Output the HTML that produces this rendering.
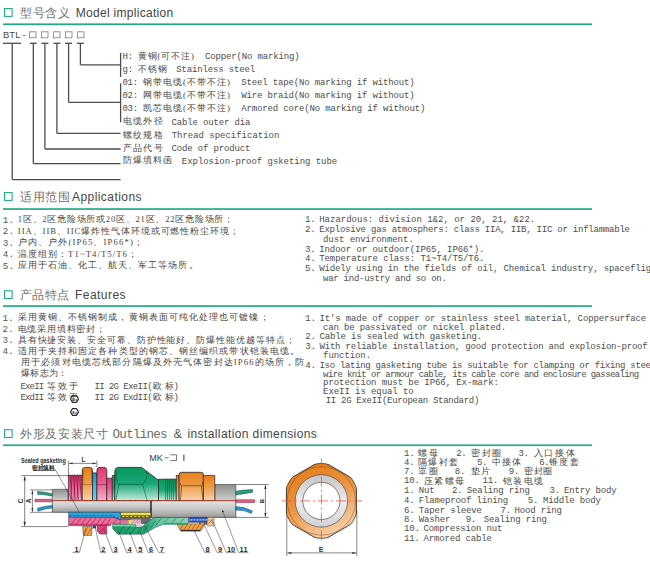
<!DOCTYPE html>
<html><head><meta charset="utf-8"><title>BTL</title>
<style>
html,body{margin:0;padding:0;background:#fff;width:650px;height:563px;overflow:hidden;}
svg{display:block;}
text{white-space:pre;}
</style></head>
<body>
<svg width="650" height="563" viewBox="0 0 650 563">
<rect width="650" height="563" fill="#fff"/>
<rect x="4.5" y="8.6" width="7.6" height="7.8" fill="none" stroke="#1fad82" stroke-width="1.1" />
<text x="20" y="17.2" font-family="'Liberation Sans', sans-serif" font-size="12" fill="#707070" textLength="49.5" lengthAdjust="spacing">型号含义</text>
<text x="75.7" y="17.2" font-family="'Liberation Sans', sans-serif" font-size="12" fill="#454545" textLength="97.5" lengthAdjust="spacing">Model implication</text>
<rect x="3" y="23.4" width="589" height="1.7" fill="#1fad82" />
<rect x="4.5" y="192.6" width="7.6" height="7.8" fill="none" stroke="#1fad82" stroke-width="1.1" />
<text x="20" y="200.8" font-family="'Liberation Sans', sans-serif" font-size="12" fill="#707070" textLength="49.5" lengthAdjust="spacing">适用范围</text>
<text x="72" y="200.8" font-family="'Liberation Sans', sans-serif" font-size="12" fill="#454545" textLength="69.5" lengthAdjust="spacing">Applications</text>
<rect x="3" y="208.2" width="589" height="1.7" fill="#1fad82" />
<rect x="4.5" y="290.8" width="7.6" height="7.8" fill="none" stroke="#1fad82" stroke-width="1.1" />
<text x="20" y="299" font-family="'Liberation Sans', sans-serif" font-size="12" fill="#707070" textLength="49" lengthAdjust="spacing">产品特点</text>
<text x="75" y="299" font-family="'Liberation Sans', sans-serif" font-size="12" fill="#454545" textLength="50.5" lengthAdjust="spacing">Features</text>
<rect x="3" y="305.2" width="589" height="1.7" fill="#1fad82" />
<rect x="4.5" y="429.7" width="7.6" height="7.8" fill="none" stroke="#1fad82" stroke-width="1.1" />
<text x="20" y="437.8" font-family="'Liberation Sans', sans-serif" font-size="12" fill="#707070" textLength="88" lengthAdjust="spacing">外形及安装尺寸</text>
<text x="112.6" y="437.8" font-family="'Liberation Mono', monospace" font-size="12.6" fill="#6a6a6a" textLength="54.9" lengthAdjust="spacing">Outlines</text>
<text x="173.4" y="437.8" font-family="'Liberation Sans', sans-serif" font-size="12.8" fill="#5a5a5a" textLength="9.2" lengthAdjust="spacing">&amp;</text>
<text x="187.5" y="437.8" font-family="'Liberation Sans', sans-serif" font-size="12" fill="#454545" textLength="129.3" lengthAdjust="spacing">installation dimensions</text>
<rect x="3" y="444.4" width="589" height="1.7" fill="#1fad82" />
<text x="3" y="38" font-family="'Liberation Sans', sans-serif" font-size="9.4" fill="#4a4a4a" textLength="17.4" lengthAdjust="spacing">BTL</text>
<text x="22.6" y="38" font-family="'Liberation Sans', sans-serif" font-size="9.4" fill="#4a4a4a" textLength="3.2" lengthAdjust="spacing">-</text>
<rect x="29.5" y="31.8" width="6.5" height="6" fill="none" stroke="#8a8a8a" stroke-width="0.9" />
<rect x="41.5" y="31.8" width="6.5" height="6" fill="none" stroke="#8a8a8a" stroke-width="0.9" />
<rect x="53.5" y="31.8" width="6.5" height="6" fill="none" stroke="#8a8a8a" stroke-width="0.9" />
<rect x="65.5" y="31.8" width="6.5" height="6" fill="none" stroke="#8a8a8a" stroke-width="0.9" />
<rect x="77.5" y="31.8" width="6.5" height="6" fill="none" stroke="#8a8a8a" stroke-width="0.9" />
<line x1="3" y1="43.3" x2="21" y2="43.3" stroke="#4d4d4d" stroke-width="1.3" />
<line x1="12.2" y1="43.3" x2="12.2" y2="179.6" stroke="#4d4d4d" stroke-width="1.3" />
<line x1="12.2" y1="179.6" x2="120.6" y2="179.6" stroke="#4d4d4d" stroke-width="1.3" />
<line x1="29.799999999999997" y1="43.3" x2="36.8" y2="43.3" stroke="#4d4d4d" stroke-width="1.3" />
<line x1="33.3" y1="43.3" x2="33.3" y2="163.6" stroke="#4d4d4d" stroke-width="1.3" />
<line x1="33.3" y1="163.6" x2="120.6" y2="163.6" stroke="#4d4d4d" stroke-width="1.3" />
<line x1="41.4" y1="43.3" x2="48.4" y2="43.3" stroke="#4d4d4d" stroke-width="1.3" />
<line x1="44.9" y1="43.3" x2="44.9" y2="149.0" stroke="#4d4d4d" stroke-width="1.3" />
<line x1="44.9" y1="149.0" x2="120.6" y2="149.0" stroke="#4d4d4d" stroke-width="1.3" />
<line x1="53.4" y1="43.3" x2="60.4" y2="43.3" stroke="#4d4d4d" stroke-width="1.3" />
<line x1="56.9" y1="43.3" x2="56.9" y2="133.4" stroke="#4d4d4d" stroke-width="1.3" />
<line x1="56.9" y1="133.4" x2="120.6" y2="133.4" stroke="#4d4d4d" stroke-width="1.3" />
<line x1="65.1" y1="43.3" x2="72.1" y2="43.3" stroke="#4d4d4d" stroke-width="1.3" />
<line x1="68.6" y1="43.3" x2="68.6" y2="102.4" stroke="#4d4d4d" stroke-width="1.3" />
<line x1="68.6" y1="102.4" x2="120.6" y2="102.4" stroke="#4d4d4d" stroke-width="1.3" />
<line x1="76.9" y1="43.3" x2="83.9" y2="43.3" stroke="#4d4d4d" stroke-width="1.3" />
<line x1="80.4" y1="43.3" x2="80.4" y2="64.9" stroke="#4d4d4d" stroke-width="1.3" />
<line x1="80.4" y1="64.9" x2="120.6" y2="64.9" stroke="#4d4d4d" stroke-width="1.3" />
<line x1="120.6" y1="52.8" x2="120.6" y2="76.9" stroke="#4d4d4d" stroke-width="1.3" />
<line x1="120.6" y1="83.3" x2="120.6" y2="122.3" stroke="#4d4d4d" stroke-width="1.3" />
<text x="122.6" y="59.3" font-family="'Liberation Mono', monospace" font-size="9" fill="#4e4e4e" textLength="10.52" lengthAdjust="spacing">H:</text>
<text x="137.7" y="58.9" font-family="'Liberation Serif', serif" font-size="8.7" fill="#474747" textLength="56.3" lengthAdjust="spacing">黄铜(可不注)</text>
<text x="204.9" y="59.3" font-family="'Liberation Mono', monospace" font-size="9" fill="#4e4e4e" textLength="94.68" lengthAdjust="spacing">Copper(No marking)</text>
<text x="122.6" y="72.4" font-family="'Liberation Mono', monospace" font-size="9" fill="#4e4e4e" textLength="10.52" lengthAdjust="spacing">g:</text>
<text x="137.7" y="72.0" font-family="'Liberation Serif', serif" font-size="8.7" fill="#474747" textLength="28.8" lengthAdjust="spacing">不锈钢</text>
<text x="176.2" y="72.4" font-family="'Liberation Mono', monospace" font-size="9" fill="#4e4e4e" textLength="78.9" lengthAdjust="spacing">Stainless steel</text>
<text x="122.4" y="85.4" font-family="'Liberation Mono', monospace" font-size="9" fill="#4e4e4e" textLength="15.78" lengthAdjust="spacing">01:</text>
<text x="143.2" y="85.0" font-family="'Liberation Serif', serif" font-size="8.7" fill="#474747" textLength="86.6" lengthAdjust="spacing">钢带电缆(不带不注)</text>
<text x="241.2" y="85.4" font-family="'Liberation Mono', monospace" font-size="9" fill="#4e4e4e" textLength="173.58" lengthAdjust="spacing">Steel tape(No marking if without)</text>
<text x="122.4" y="98.4" font-family="'Liberation Mono', monospace" font-size="9" fill="#4e4e4e" textLength="15.78" lengthAdjust="spacing">02:</text>
<text x="143.2" y="98.0" font-family="'Liberation Serif', serif" font-size="8.7" fill="#474747" textLength="86.6" lengthAdjust="spacing">网带电缆(不带不注)</text>
<text x="241.2" y="98.4" font-family="'Liberation Mono', monospace" font-size="9" fill="#4e4e4e" textLength="173.58" lengthAdjust="spacing">Wire braid(No marking if without)</text>
<text x="122.4" y="111.4" font-family="'Liberation Mono', monospace" font-size="9" fill="#4e4e4e" textLength="15.78" lengthAdjust="spacing">03:</text>
<text x="143.2" y="111.0" font-family="'Liberation Serif', serif" font-size="8.7" fill="#474747" textLength="86.6" lengthAdjust="spacing">凯芯电缆(不带不注)</text>
<text x="241.2" y="111.4" font-family="'Liberation Mono', monospace" font-size="9" fill="#4e4e4e" textLength="184.1" lengthAdjust="spacing">Armored core(No marking if without)</text>
<text x="123.2" y="124.3" font-family="'Liberation Serif', serif" font-size="8.7" fill="#474747" textLength="39.3" lengthAdjust="spacing">电缆外径</text>
<text x="171.5" y="124.7" font-family="'Liberation Mono', monospace" font-size="9" fill="#4e4e4e" textLength="78.9" lengthAdjust="spacing">Cable outer dia</text>
<text x="122.9" y="137.5" font-family="'Liberation Serif', serif" font-size="8.7" fill="#474747" textLength="39.6" lengthAdjust="spacing">螺纹规格</text>
<text x="171.7" y="137.9" font-family="'Liberation Mono', monospace" font-size="9" fill="#4e4e4e" textLength="107.6" lengthAdjust="spacing">Thread specification</text>
<text x="122.9" y="150.5" font-family="'Liberation Serif', serif" font-size="8.7" fill="#474747" textLength="39.6" lengthAdjust="spacing">产品代号</text>
<text x="171.5" y="150.9" font-family="'Liberation Mono', monospace" font-size="9" fill="#4e4e4e" textLength="78.9" lengthAdjust="spacing">Code of product</text>
<text x="122.9" y="163.4" font-family="'Liberation Serif', serif" font-size="8.7" fill="#474747" textLength="49.1" lengthAdjust="spacing">防爆填料函</text>
<text x="181.8" y="163.8" font-family="'Liberation Mono', monospace" font-size="9" fill="#4e4e4e" textLength="155.44" lengthAdjust="spacing">Explosion-proof gsketing tube</text>
<text x="2.7" y="222.8" font-family="'Liberation Mono', monospace" font-size="9.2" fill="#555" textLength="11.2" lengthAdjust="spacing">1.</text>
<text x="2.7" y="234.2" font-family="'Liberation Mono', monospace" font-size="9.2" fill="#555" textLength="11.2" lengthAdjust="spacing">2.</text>
<text x="2.7" y="245.6" font-family="'Liberation Mono', monospace" font-size="9.2" fill="#555" textLength="11.2" lengthAdjust="spacing">3.</text>
<text x="2.7" y="257.0" font-family="'Liberation Mono', monospace" font-size="9.2" fill="#555" textLength="11.2" lengthAdjust="spacing">4.</text>
<text x="2.7" y="268.6" font-family="'Liberation Mono', monospace" font-size="9.2" fill="#555" textLength="11.2" lengthAdjust="spacing">5.</text>
<text x="17.8" y="222.4" font-family="'Liberation Serif', serif" font-size="8.7" fill="#474747" textLength="215.2" lengthAdjust="spacing">1区、2区危险场所或20区、21区、22区危险场所；</text>
<text x="17.8" y="233.8" font-family="'Liberation Serif', serif" font-size="8.7" fill="#474747" textLength="221.2" lengthAdjust="spacing">IIA、IIB、IIC爆炸性气体环境或可燃性粉尘环境；</text>
<text x="17.8" y="245.2" font-family="'Liberation Serif', serif" font-size="8.7" fill="#474747" textLength="125.2" lengthAdjust="spacing">户内、户外(IP65、IP66*)；</text>
<text x="17.8" y="256.6" font-family="'Liberation Serif', serif" font-size="8.7" fill="#474747" textLength="119.2" lengthAdjust="spacing">温度组别：T1~T4/T5/T6；</text>
<text x="17.8" y="268.2" font-family="'Liberation Serif', serif" font-size="8.7" fill="#474747" textLength="179.7" lengthAdjust="spacing">应用于石油、化工、航天、军工等场所。</text>
<text x="304.9" y="221.7" font-family="'Liberation Mono', monospace" font-size="9" fill="#4e4e4e" textLength="10.66" lengthAdjust="spacing">1.</text>
<text x="319.2" y="221.7" font-family="'Liberation Mono', monospace" font-size="9" fill="#4e4e4e" textLength="216.0" lengthAdjust="spacing">Hazardous: division 1&amp;2, or 20, 21, &amp;22.</text>
<text x="304.9" y="231.9" font-family="'Liberation Mono', monospace" font-size="9" fill="#4e4e4e" textLength="10.66" lengthAdjust="spacing">2.</text>
<text x="319.2" y="231.9" font-family="'Liberation Mono', monospace" font-size="9" fill="#4e4e4e" textLength="310.8" lengthAdjust="spacing">Explosive gas atmosphers: class IIA, IIB, IIC or inflammable</text>
<text x="323.0" y="241.7" font-family="'Liberation Mono', monospace" font-size="9" fill="#4e4e4e" textLength="90.61" lengthAdjust="spacing">dust environment.</text>
<text x="304.9" y="251.5" font-family="'Liberation Mono', monospace" font-size="9" fill="#4e4e4e" textLength="10.66" lengthAdjust="spacing">3.</text>
<text x="319.2" y="251.5" font-family="'Liberation Mono', monospace" font-size="9" fill="#4e4e4e" textLength="165.23" lengthAdjust="spacing">Indoor or outdoor(IP65, IP66*).</text>
<text x="304.9" y="260.6" font-family="'Liberation Mono', monospace" font-size="9" fill="#4e4e4e" textLength="10.66" lengthAdjust="spacing">4.</text>
<text x="319.2" y="260.6" font-family="'Liberation Mono', monospace" font-size="9" fill="#4e4e4e" textLength="165.23" lengthAdjust="spacing">Temperature class: T1~T4/T5/T6.</text>
<text x="304.9" y="271.4" font-family="'Liberation Mono', monospace" font-size="9" fill="#4e4e4e" textLength="10.66" lengthAdjust="spacing">5.</text>
<text x="319.2" y="271.4" font-family="'Liberation Mono', monospace" font-size="9" fill="#4e4e4e" textLength="363.63" lengthAdjust="spacing">Widely using in the fields of oil, Chemical industry, spaceflight and</text>
<text x="323.0" y="281.3" font-family="'Liberation Mono', monospace" font-size="9" fill="#4e4e4e" textLength="123.84" lengthAdjust="spacing">war ind-ustry and so on.</text>
<text x="2.5" y="320.5" font-family="'Liberation Mono', monospace" font-size="9.2" fill="#555" textLength="11.2" lengthAdjust="spacing">1.</text>
<text x="2.5" y="331.9" font-family="'Liberation Mono', monospace" font-size="9.2" fill="#555" textLength="11.2" lengthAdjust="spacing">2.</text>
<text x="2.5" y="342.9" font-family="'Liberation Mono', monospace" font-size="9.2" fill="#555" textLength="11.2" lengthAdjust="spacing">3.</text>
<text x="2.5" y="354.2" font-family="'Liberation Mono', monospace" font-size="9.2" fill="#555" textLength="11.2" lengthAdjust="spacing">4.</text>
<text x="17.7" y="320.1" font-family="'Liberation Serif', serif" font-size="8.7" fill="#474747" textLength="250.8" lengthAdjust="spacing">采用黄铜、不锈钢制成，黄铜表面可纯化处理也可镀镍；</text>
<text x="17.7" y="331.5" font-family="'Liberation Serif', serif" font-size="8.7" fill="#474747" textLength="87.3" lengthAdjust="spacing">电缆采用填料密封；</text>
<text x="17.7" y="342.5" font-family="'Liberation Serif', serif" font-size="8.7" fill="#474747" textLength="276.8" lengthAdjust="spacing">具有快捷安装、安全可靠、防护性能好、防爆性能优越等特点；</text>
<text x="17.7" y="353.8" font-family="'Liberation Serif', serif" font-size="8.7" fill="#474747" textLength="281.3" lengthAdjust="spacing">适用于夹持和固定各种类型的钢芯、钢丝编织或带状铠装电缆。</text>
<text x="21.1" y="365.2" font-family="'Liberation Serif', serif" font-size="8.7" fill="#474747" textLength="283.2" lengthAdjust="spacing">用于必须对电缆芯线部分隔爆及外壳气体密封达IP66的场所，防</text>
<text x="21.1" y="376.2" font-family="'Liberation Serif', serif" font-size="8.7" fill="#474747" textLength="45.9" lengthAdjust="spacing">爆标志为：</text>
<text x="20.4" y="389.2" font-family="'Liberation Mono', monospace" font-size="9" fill="#4e4e4e" textLength="23.75" lengthAdjust="spacing">ExeII</text>
<text x="46.5" y="388.8" font-family="'Liberation Serif', serif" font-size="8.7" fill="#474747" textLength="31.5" lengthAdjust="spacing">等效于</text>
<text x="94.4" y="389.2" font-family="'Liberation Mono', monospace" font-size="9" fill="#4e4e4e" textLength="58.2" lengthAdjust="spacing">II 2G ExeII(</text>
<text x="153.2" y="388.8" font-family="'Liberation Serif', serif" font-size="8.7" fill="#474747" textLength="21.0" lengthAdjust="spacing">欧标</text>
<text x="173.6" y="389.2" font-family="'Liberation Mono', monospace" font-size="9" fill="#4e4e4e" textLength="5.0" lengthAdjust="spacing">)</text>
<text x="20.4" y="400.2" font-family="'Liberation Mono', monospace" font-size="9" fill="#4e4e4e" textLength="23.75" lengthAdjust="spacing">ExdII</text>
<text x="46.5" y="399.8" font-family="'Liberation Serif', serif" font-size="8.7" fill="#474747" textLength="31.5" lengthAdjust="spacing">等效于</text>
<text x="94.4" y="400.2" font-family="'Liberation Mono', monospace" font-size="9" fill="#4e4e4e" textLength="58.2" lengthAdjust="spacing">II 2G ExdII(</text>
<text x="153.2" y="399.8" font-family="'Liberation Serif', serif" font-size="8.7" fill="#474747" textLength="21.0" lengthAdjust="spacing">欧标</text>
<text x="173.6" y="400.2" font-family="'Liberation Mono', monospace" font-size="9" fill="#4e4e4e" textLength="5.0" lengthAdjust="spacing">)</text>
<polygon points="70.50,399.00 72.50,395.60 76.50,395.60 78.50,399.00 76.50,402.40 72.50,402.40" fill="none" stroke="#2a2a2a" stroke-width="1.2" stroke-linejoin="round"/>
<text x="72.2" y="400.5" font-family="'Liberation Sans', sans-serif" font-size="4.2" fill="#333" font-weight="bold">Ex</text>
<polygon points="70.50,412.00 72.50,408.60 76.50,408.60 78.50,412.00 76.50,415.40 72.50,415.40" fill="none" stroke="#2a2a2a" stroke-width="1.2" stroke-linejoin="round"/>
<text x="72.2" y="413.5" font-family="'Liberation Sans', sans-serif" font-size="4.2" fill="#333" font-weight="bold">Ex</text>
<text x="305.3" y="320.7" font-family="'Liberation Mono', monospace" font-size="9" fill="#4e4e4e" textLength="10.66" lengthAdjust="spacing">1.</text>
<text x="319.5" y="320.7" font-family="'Liberation Mono', monospace" font-size="9" fill="#4e4e4e" textLength="326.74" lengthAdjust="spacing">It&#x27;s made of copper or stainless steel material, Coppersurface</text>
<text x="323.1" y="329.5" font-family="'Liberation Mono', monospace" font-size="9" fill="#4e4e4e" textLength="183.05" lengthAdjust="spacing">can be passivated or nickel plated.</text>
<text x="305.3" y="339.3" font-family="'Liberation Mono', monospace" font-size="9" fill="#4e4e4e" textLength="10.66" lengthAdjust="spacing">2.</text>
<text x="319.5" y="339.3" font-family="'Liberation Mono', monospace" font-size="9" fill="#4e4e4e" textLength="162.75" lengthAdjust="spacing">Cable is sealed with gasketing.</text>
<text x="305.3" y="348.7" font-family="'Liberation Mono', monospace" font-size="9" fill="#4e4e4e" textLength="10.66" lengthAdjust="spacing">3.</text>
<text x="319.5" y="348.7" font-family="'Liberation Mono', monospace" font-size="9" fill="#4e4e4e" textLength="328.23" lengthAdjust="spacing">With reliable installation, good protection and explosion-proof</text>
<text x="323.1" y="358.3" font-family="'Liberation Mono', monospace" font-size="9" fill="#4e4e4e" textLength="47.97" lengthAdjust="spacing">function.</text>
<text x="305.3" y="367.7" font-family="'Liberation Mono', monospace" font-size="9" fill="#4e4e4e" textLength="10.66" lengthAdjust="spacing">4.</text>
<text x="319.5" y="367.7" font-family="'Liberation Mono', monospace" font-size="9" fill="#4e4e4e" textLength="336.6" lengthAdjust="spacing">Iso lating gasketing tube is suitable for clamping or fixing steel</text>
<text x="323.1" y="376.6" font-family="'Liberation Mono', monospace" font-size="9" fill="#4e4e4e" textLength="316.14" lengthAdjust="spacing">wire knit or armour cable, its cable core and enclosure gassealing</text>
<text x="323.1" y="385.1" font-family="'Liberation Mono', monospace" font-size="9" fill="#4e4e4e" textLength="175.89" lengthAdjust="spacing">protection must be IP66, Ex-mark:</text>
<text x="323.1" y="394.3" font-family="'Liberation Mono', monospace" font-size="9" fill="#4e4e4e" textLength="90.61" lengthAdjust="spacing">ExeII is equal to</text>
<text x="325.7" y="403.2" font-family="'Liberation Mono', monospace" font-size="9" fill="#4e4e4e" textLength="153.6" lengthAdjust="spacing">II 2G ExeII(European Standard)</text>
<text x="404.1" y="455.7" font-family="'Liberation Mono', monospace" font-size="9" fill="#4e4e4e" textLength="10.52" lengthAdjust="spacing">1.</text>
<text x="418" y="456.1" font-family="'Liberation Serif', serif" font-size="9.3" fill="#474747" textLength="19.5" lengthAdjust="spacing">螺母</text>
<text x="456.2" y="455.7" font-family="'Liberation Mono', monospace" font-size="9" fill="#4e4e4e" textLength="10.52" lengthAdjust="spacing">2.</text>
<text x="471.4" y="456.1" font-family="'Liberation Serif', serif" font-size="9.3" fill="#474747" textLength="29.8" lengthAdjust="spacing">密封圈</text>
<text x="518.5" y="455.7" font-family="'Liberation Mono', monospace" font-size="9" fill="#4e4e4e" textLength="10.52" lengthAdjust="spacing">3.</text>
<text x="533.7" y="456.1" font-family="'Liberation Serif', serif" font-size="9.3" fill="#474747" textLength="40.8" lengthAdjust="spacing">入口接体</text>
<text x="404.1" y="464.6" font-family="'Liberation Mono', monospace" font-size="9" fill="#4e4e4e" textLength="10.52" lengthAdjust="spacing">4.</text>
<text x="418" y="465.0" font-family="'Liberation Serif', serif" font-size="9.3" fill="#474747" textLength="40.2" lengthAdjust="spacing">隔爆衬套</text>
<text x="477" y="464.6" font-family="'Liberation Mono', monospace" font-size="9" fill="#4e4e4e" textLength="10.52" lengthAdjust="spacing">5.</text>
<text x="492" y="465.0" font-family="'Liberation Serif', serif" font-size="9.3" fill="#474747" textLength="28.5" lengthAdjust="spacing">中接体</text>
<text x="539.2" y="464.6" font-family="'Liberation Mono', monospace" font-size="9" fill="#4e4e4e" textLength="10.52" lengthAdjust="spacing">6.</text>
<text x="549" y="465.0" font-family="'Liberation Serif', serif" font-size="9.3" fill="#474747" textLength="29.7" lengthAdjust="spacing">锥度套</text>
<text x="404.1" y="474.0" font-family="'Liberation Mono', monospace" font-size="9" fill="#4e4e4e" textLength="10.52" lengthAdjust="spacing">7.</text>
<text x="418" y="474.4" font-family="'Liberation Serif', serif" font-size="9.3" fill="#474747" textLength="19.5" lengthAdjust="spacing">罩圈</text>
<text x="454.8" y="474.0" font-family="'Liberation Mono', monospace" font-size="9" fill="#4e4e4e" textLength="10.52" lengthAdjust="spacing">8.</text>
<text x="471.4" y="474.4" font-family="'Liberation Serif', serif" font-size="9.3" fill="#474747" textLength="18.7" lengthAdjust="spacing">垫片</text>
<text x="508.8" y="474.0" font-family="'Liberation Mono', monospace" font-size="9" fill="#4e4e4e" textLength="10.52" lengthAdjust="spacing">9.</text>
<text x="524" y="474.4" font-family="'Liberation Serif', serif" font-size="9.3" fill="#474747" textLength="28.4" lengthAdjust="spacing">密封圈</text>
<text x="404.1" y="483.3" font-family="'Liberation Mono', monospace" font-size="9" fill="#4e4e4e" textLength="15.78" lengthAdjust="spacing">10.</text>
<text x="424.3" y="483.7" font-family="'Liberation Serif', serif" font-size="9.3" fill="#474747" textLength="39.4" lengthAdjust="spacing">压紧螺母</text>
<text x="482.5" y="483.3" font-family="'Liberation Mono', monospace" font-size="9" fill="#4e4e4e" textLength="15.78" lengthAdjust="spacing">11.</text>
<text x="503.2" y="483.7" font-family="'Liberation Serif', serif" font-size="9.3" fill="#474747" textLength="39.5" lengthAdjust="spacing">铠装电缆</text>
<text x="404.1" y="493.3" font-family="'Liberation Mono', monospace" font-size="9" fill="#4e4e4e" textLength="10.52" lengthAdjust="spacing">1.</text>
<text x="418.8" y="493.3" font-family="'Liberation Mono', monospace" font-size="9" fill="#4e4e4e" textLength="15.78" lengthAdjust="spacing">Nut</text>
<text x="452" y="493.3" font-family="'Liberation Mono', monospace" font-size="9" fill="#4e4e4e" textLength="10.52" lengthAdjust="spacing">2.</text>
<text x="466.7" y="493.3" font-family="'Liberation Mono', monospace" font-size="9" fill="#4e4e4e" textLength="63.12" lengthAdjust="spacing">Sealing ring</text>
<text x="549.4" y="493.3" font-family="'Liberation Mono', monospace" font-size="9" fill="#4e4e4e" textLength="10.52" lengthAdjust="spacing">3.</text>
<text x="564" y="493.3" font-family="'Liberation Mono', monospace" font-size="9" fill="#4e4e4e" textLength="52.6" lengthAdjust="spacing">Entry body</text>
<text x="404.1" y="503.1" font-family="'Liberation Mono', monospace" font-size="9" fill="#4e4e4e" textLength="10.52" lengthAdjust="spacing">4.</text>
<text x="418.8" y="503.1" font-family="'Liberation Mono', monospace" font-size="9" fill="#4e4e4e" textLength="89.42" lengthAdjust="spacing">Flameproof lining</text>
<text x="527.8" y="503.1" font-family="'Liberation Mono', monospace" font-size="9" fill="#4e4e4e" textLength="10.52" lengthAdjust="spacing">5.</text>
<text x="543" y="503.1" font-family="'Liberation Mono', monospace" font-size="9" fill="#4e4e4e" textLength="57.86" lengthAdjust="spacing">Middle body</text>
<text x="404.1" y="513.0" font-family="'Liberation Mono', monospace" font-size="9" fill="#4e4e4e" textLength="10.52" lengthAdjust="spacing">6.</text>
<text x="418.8" y="513.0" font-family="'Liberation Mono', monospace" font-size="9" fill="#4e4e4e" textLength="63.12" lengthAdjust="spacing">Taper sleeve</text>
<text x="500.5" y="513.0" font-family="'Liberation Mono', monospace" font-size="9" fill="#4e4e4e" textLength="10.52" lengthAdjust="spacing">7.</text>
<text x="514.5" y="513.0" font-family="'Liberation Mono', monospace" font-size="9" fill="#4e4e4e" textLength="47.34" lengthAdjust="spacing">Hood ring</text>
<text x="404.1" y="522.0" font-family="'Liberation Mono', monospace" font-size="9" fill="#4e4e4e" textLength="10.52" lengthAdjust="spacing">8.</text>
<text x="418.8" y="522.0" font-family="'Liberation Mono', monospace" font-size="9" fill="#4e4e4e" textLength="31.56" lengthAdjust="spacing">Washer</text>
<text x="465.8" y="522.0" font-family="'Liberation Mono', monospace" font-size="9" fill="#4e4e4e" textLength="10.52" lengthAdjust="spacing">9.</text>
<text x="483.8" y="522.0" font-family="'Liberation Mono', monospace" font-size="9" fill="#4e4e4e" textLength="63.12" lengthAdjust="spacing">Sealing ring</text>
<text x="404.1" y="531.4" font-family="'Liberation Mono', monospace" font-size="9" fill="#4e4e4e" textLength="15.78" lengthAdjust="spacing">10.</text>
<text x="423.5" y="531.4" font-family="'Liberation Mono', monospace" font-size="9" fill="#4e4e4e" textLength="78.9" lengthAdjust="spacing">Compression nut</text>
<text x="404.1" y="540.6" font-family="'Liberation Mono', monospace" font-size="9" fill="#4e4e4e" textLength="15.78" lengthAdjust="spacing">11.</text>
<text x="423.5" y="540.6" font-family="'Liberation Mono', monospace" font-size="9" fill="#4e4e4e" textLength="68.38" lengthAdjust="spacing">Armored cable</text>
<defs>
<linearGradient id="gCabTop" x1="0" y1="0" x2="0" y2="1"><stop offset="0" stop-color="#8e8e8e"/><stop offset="1" stop-color="#cfcfcf"/></linearGradient>
<linearGradient id="gBand" x1="0" y1="0" x2="0" y2="1"><stop offset="0" stop-color="#e4e4e4"/><stop offset="0.55" stop-color="#c4c4c4"/><stop offset="1" stop-color="#9a9a9a"/></linearGradient>
<linearGradient id="gOr" x1="0" y1="0" x2="0" y2="1"><stop offset="0" stop-color="#e57e18"/><stop offset="0.45" stop-color="#ee9a45"/><stop offset="1" stop-color="#f9d3ad"/></linearGradient>
<linearGradient id="gPk" x1="0" y1="0" x2="0" y2="1"><stop offset="0" stop-color="#dc3a74"/><stop offset="0.5" stop-color="#e8608f"/><stop offset="1" stop-color="#f5b3cb"/></linearGradient>
<linearGradient id="gGr" x1="0" y1="0" x2="0" y2="1"><stop offset="0" stop-color="#0a985e"/><stop offset="0.5" stop-color="#18a877"/><stop offset="1" stop-color="#c6ecda"/></linearGradient>
<linearGradient id="gBl" x1="0" y1="0" x2="0" y2="1"><stop offset="0" stop-color="#1592d6"/><stop offset="1" stop-color="#7fd0f2"/></linearGradient>
<linearGradient id="gHex" x1="0.2" y1="0" x2="0.6" y2="1"><stop offset="0" stop-color="#e47a14"/><stop offset="0.5" stop-color="#ec9440"/><stop offset="1" stop-color="#f8d6b4"/></linearGradient>
<linearGradient id="gRing" x1="0" y1="0" x2="0" y2="1"><stop offset="0" stop-color="#c9c9cc"/><stop offset="0.5" stop-color="#ededee"/><stop offset="1" stop-color="#d6d6d8"/></linearGradient>
<linearGradient id="gGrLow" gradientUnits="userSpaceOnUse" x1="113" y1="0" x2="188" y2="0"><stop offset="0" stop-color="#1b9c6b"/><stop offset="0.45" stop-color="#26a877"/><stop offset="0.62" stop-color="#6cc7a2"/><stop offset="1" stop-color="#8ad5b6"/></linearGradient>
<clipPath id="hexClip"><circle cx="321.4" cy="500.9" r="37.6"/></clipPath>
<clipPath id="hexClip2"><polygon points="321.4,460.5 356.4,480.7 356.4,521.1 321.4,541.3 286.4,521.1 286.4,480.7"/></clipPath>
</defs>
<g stroke-linejoin="round">
<!-- cables -->
<rect x="52.3" y="489.3" width="15.8" height="11.3" fill="url(#gCabTop)" stroke="#3a3a3a" stroke-width="0.6"/>
<rect x="52.3" y="500.6" width="98.7" height="11.7" fill="url(#gBand)" stroke="#3a3a3a" stroke-width="0.7"/>
<rect x="151" y="500.6" width="84.8" height="16.8" fill="url(#gBand)" stroke="#3a3a3a" stroke-width="0.7"/>
<line x1="151" y1="500.6" x2="151" y2="517.4" stroke="#222" stroke-width="1.2"/>
<rect x="214.8" y="484.5" width="21" height="16.1" fill="url(#gCabTop)" stroke="#3a3a3a" stroke-width="0.6"/>
<!-- upper half parts -->
<rect x="68.4" y="475.4" width="13.8" height="25.2" fill="url(#gPk)" stroke="#222" stroke-width="0.7"/>
<path d="M70.2,476 L72,500 M72,476 L70.6,500 M73.4,476 L75.2,500 M75.2,476 L73.8,500 M76.6,476 L78.4,500 M78.4,476 L77,500 M79.8,476 L81.4,500" stroke="#7a0a36" stroke-width="0.6" fill="none"/>
<path d="M68.4,476 l1.3,-1.2 l1.3,1.2 l1.3,-1.2 l1.3,1.2 l1.3,-1.2 l1.3,1.2 l1.3,-1.2 l1.3,1.2 l1.3,-1.2 l1.3,1.2" stroke="#333" stroke-width="0.6" fill="none"/>
<path d="M82.2,500.6 V470.4 Q82.2,467.4 85.2,467.4 H89.6 Q92.6,467.4 92.6,470.4 V500.6 Z" fill="url(#gOr)" stroke="#222" stroke-width="0.8"/>
<path d="M82.6,484.6 H92.2 M83.5,470 L82.8,484.6 M91.3,470 L92,484.6" stroke="#6a3a10" stroke-width="0.45" fill="none"/>
<rect x="92.6" y="472.9" width="4.3" height="27.7" fill="url(#gBl)" stroke="#222" stroke-width="0.7"/>
<path d="M96.9,500.6 V470.4 Q96.9,467.4 99.9,467.4 H103.8 Q106.8,467.4 106.8,470.4 V500.6 Z" fill="url(#gPk)" stroke="#222" stroke-width="0.8"/>
<path d="M97.3,484.6 H106.4" stroke="#7a1038" stroke-width="0.45"/>
<rect x="106.8" y="478.2" width="5.5" height="22.4" fill="url(#gPk)" stroke="#222" stroke-width="0.7"/>
<rect x="112.3" y="475.4" width="2.5" height="25.2" fill="url(#gGr)" stroke="#222" stroke-width="0.7"/>
<path d="M114.8,500.6 V471.6 Q114.8,467.4 119,467.4 H141.6 L157.6,479.6 H158.5 V500.6 Z" fill="url(#gGr)" stroke="#222" stroke-width="0.8"/>
<path d="M116.2,471 Q116.4,482 119,484.4 H142.6 Q147.4,480 147,471.5 M118.8,484.4 L116,500 M142.6,484.4 L147,500" stroke="#0b3d2a" stroke-width="0.5" fill="none"/>
<rect x="158.5" y="479.2" width="17.8" height="21.4" fill="url(#gGr)" stroke="#222" stroke-width="0.7"/>
<path d="M166,478.6 L165.6,500 M168,478.6 L167.4,500 M170,478.6 L169.4,500 M172,478.6 L171.4,500 M174,478.6 L173.4,500" stroke="#0b4d33" stroke-width="0.55" fill="none"/>
<rect x="176.3" y="475.4" width="2.8" height="25.2" fill="url(#gOr)" stroke="#222" stroke-width="0.7"/>
<path d="M179.1,500.6 V474.6 Q179.1,472.3 181.4,472.3 H200.8 Q203.4,472.3 203.4,474.8 V500.6 Z" fill="url(#gOr)" stroke="#222" stroke-width="0.8"/>
<path d="M180.2,483 Q180.4,485.8 182,485.8 H201.4 Q202.8,485 202.6,482 M181.6,485.8 L180.6,500 M201.4,485.8 L203,500" stroke="#3a200a" stroke-width="0.55" fill="none"/>
<rect x="203.4" y="475.4" width="11.4" height="25.2" fill="url(#gOr)" stroke="#222" stroke-width="0.7"/>
<line x1="52.5" y1="500.6" x2="236" y2="500.6" stroke="#d8432a" stroke-width="0.9" stroke-dasharray="4 1.6"/>
<!-- lower half section -->
<path d="M68.6,512.3 H120.8 V520.2 L113,517.4 H68.6 Z" fill="#2ba4e2" stroke="#233" stroke-width="0.5"/>
<path d="M68.6,517.4 H113 L120.8,520.2 H128.5 V524 H110.6 V525.6 H68.6 Z" fill="#ec6c9c" stroke="#333" stroke-width="0.5"/>
<path d="M69,515.6 H112 L121,519.3 H129" stroke="#1a3f9a" stroke-width="0.8" stroke-dasharray="2.5 1.5" fill="none"/>
<rect x="68.6" y="523.7" width="42" height="1.9" fill="#d33a72"/>
<path d="M71,525 L76,518 M76,525 L81,518 M81,525 L86,518 M86,525 L91,518 M91,525 L96,518 M96,525 L101,518 M101,525 L106,518 M106,525 L111,518 M113,523.6 L116.5,520 M119,523.6 L122.5,520.5" stroke="#7a1038" stroke-width="0.5" fill="none"/>
<path d="M82.6,526.5 H92.3 L91.6,535.6 H83.4 Z" fill="#f3a042" stroke="#333" stroke-width="0.5"/>
<path d="M83.5,534 L88,527 M87,535 L91.5,528" stroke="#6a3a10" stroke-width="0.5"/>
<rect x="92.8" y="525.4" width="3.3" height="3" fill="#1b4ea8"/>
<path d="M97.2,525.6 H106.8 V534.1 H99.6 L97.2,531 Z" fill="#e0407a" stroke="#333" stroke-width="0.5"/>
<path d="M100,533 L105,527" stroke="#7a1038" stroke-width="0.5"/>
<rect x="120.8" y="512.5" width="29.8" height="5.5" fill="#f2e43e" stroke="#333" stroke-width="0.4"/>
<rect x="120.8" y="515.2" width="29.8" height="2.8" fill="#5a5630"/>
<path d="M122,516.6 h2.5 m1.5,0 h2.5 m1.5,0 h2.5 m1.5,0 h2.5 m1.5,0 h2.5 m1.5,0 h2.5 m1.5,0 h2.5" stroke="#f2e43e" stroke-width="0.9" fill="none"/>
<rect x="120.8" y="518" width="29.8" height="6" fill="#6e6470"/>
<rect x="120.8" y="520.2" width="7.7" height="3.8" fill="#e8709a"/>
<rect x="128.5" y="520" width="2.6" height="4" fill="#f2e43e"/>
<rect x="131.1" y="519.6" width="10" height="4.4" fill="#f0bccb"/>
<path d="M132,523.5 L135,520 M135,523.5 L138,520 M138,523.5 L141,520" stroke="#8a4050" stroke-width="0.5"/>
<path d="M112.7,524.6 H135.5 V527.2 H141.5 L150.5,519.6 L155,517.5 H188.3 V523.4 H165.8 L155,527.6 L143.6,534.2 H117.6 L112.7,528.6 Z" fill="url(#gGrLow)" stroke="#1d4a38" stroke-width="0.5"/>
<rect x="113" y="524.8" width="22.4" height="1.5" fill="#7fd2b0"/>
<path d="M119,533.5 L124,526.5 M125,533.5 L130,526.5 M131,533.5 L136,527.5 M137,533.5 L142,527.5 M143,532.5 L149,524.5 M150,528.5 L156,520.5 M156,525.5 L161,518.5 M164,522.5 L168,518.5 M172,522.5 L176,518.5 M180,522.5 L184,518.5" stroke="#0d5a3a" stroke-width="0.6" fill="none"/>
<rect x="135.8" y="525" width="5.4" height="2" fill="#ffffff" stroke="#333" stroke-width="0.4"/>
<rect x="188.7" y="517.4" width="18.6" height="5" fill="#2350c0" stroke="#223" stroke-width="0.4"/>
<path d="M190.5,519.9 h2 m1,0 h2 m1,0 h2 m1,0 h2 m1,0 h2 m1,0 h2" stroke="#cfe0ff" stroke-width="1.2"/>
<rect x="188.7" y="517.6" width="1.2" height="4.6" fill="#e0407a"/>
<rect x="199" y="522.4" width="8" height="2.2" fill="#555"/><rect x="201" y="522.9" width="3" height="1.2" fill="#fff"/>
<path d="M176.6,523.8 H205 L201.6,530.2 H180 Z" fill="#f2a043" stroke="#333" stroke-width="0.4"/>
<path d="M180,529.5 L183.5,524.5 M184,529.5 L187.5,524.5 M188,529.5 L191.5,524.5 M192,529.5 L195.5,524.5 M196,529.5 L199.5,524.5 M200,529.5 L203,525" stroke="#6a3a10" stroke-width="0.55"/>
<line x1="180.5" y1="530.7" x2="200.5" y2="530.7" stroke="#222" stroke-width="1.3"/>
<rect x="207.3" y="517.4" width="6.8" height="8.6" fill="#f6c894" stroke="#333" stroke-width="0.4"/>
<path d="M208,524 L213,519 M208,519.5 L213,524" stroke="#6a3a10" stroke-width="0.4"/>
<rect x="164" y="523.1" width="24.3" height="1.6" fill="#2a9e74"/>
<!-- wires -->
<path d="M37.4,491.4 Q45,491.8 52.3,493.8 L52.3,496.2 Q45,494.2 37.8,494.6 Z" fill="#20a878" stroke="#234" stroke-width="0.5"/>
<rect x="34.9" y="499.2" width="17.4" height="2.7" fill="#e25d84" stroke="#423" stroke-width="0.4"/>
<path d="M37.4,508.2 Q44,506 52.3,505.4 L52.3,508 Q45,508.4 38,511.2 Z" fill="#1c9ede" stroke="#234" stroke-width="0.5"/>
<path d="M235.8,491.3 Q244,489.8 252.6,489.6 L252.6,492.2 Q244,493.8 235.8,495 Z" fill="#20a878" stroke="#234" stroke-width="0.5"/>
<rect x="235.8" y="499.7" width="18.8" height="3" fill="#e25d84" stroke="#423" stroke-width="0.4"/>
<line x1="254.6" y1="501.2" x2="258" y2="501.2" stroke="#f08080" stroke-width="0.7"/>
<path d="M235.8,506.6 Q245,507 252.3,511 L251.4,513.4 Q244,509.6 235.8,510.2 Z" fill="#1c9ede" stroke="#234" stroke-width="0.5"/>
<!-- dimension lines -->
<g stroke="#333" stroke-width="0.6" fill="none">
<path d="M21.2,475.6 H68.4 M21.2,526.6 H68.4 M24.7,476.5 V525.7"/>
<path d="M29.9,489.9 H52.3 M29.9,512.3 H52.3 M32.4,490.5 V511.7"/>
<path d="M68.4,460.6 V475.4 M96.9,460.6 V467.4 M69,463.4 H96.3"/>
<path d="M235.8,484.5 H268.6 M235.8,517.4 H268.6 M265.4,485.2 V516.7"/>
<path d="M286.8,510 V556 M356.8,510 V556 M287.4,552.9 H356.2"/>
</g>
<g fill="#333">
<path d="M24.7,475.9 l-1.2,4.5 h2.4 Z M24.7,526.3 l-1.2,-4.5 h2.4 Z"/>
<path d="M32.4,490.2 l-1,3.8 h2 Z M32.4,512 l-1,-3.8 h2 Z"/>
<path d="M68.7,463.4 l4,-0.9 v1.8 Z M96.6,463.4 l-4,-0.9 v1.8 Z"/>
<path d="M265.4,484.8 l-1.1,4.2 h2.2 Z M265.4,517.1 l-1.1,-4.2 h2.2 Z"/>
<path d="M287.1,552.9 l4.2,-1 v2 Z M356.5,552.9 l-4.2,-1 v2 Z"/>
</g>
<text x="0" y="0" transform="translate(22.6,501) rotate(-90)" font-family="'Liberation Sans', sans-serif" font-size="6.5" font-weight="bold" fill="#333" text-anchor="middle">C</text>
<text x="0" y="0" transform="translate(31,501) rotate(-90)" font-family="'Liberation Sans', sans-serif" font-size="6.5" font-weight="bold" fill="#333" text-anchor="middle">A</text>
<text x="81.4" y="462" font-family="'Liberation Sans', sans-serif" font-size="6.5" font-weight="bold" fill="#333">L</text>
<text x="0" y="0" transform="translate(263.6,501) rotate(-90)" font-family="'Liberation Sans', sans-serif" font-size="5.6" font-weight="bold" fill="#222" text-anchor="middle">B</text>
<text x="318.8" y="551.8" font-family="'Liberation Sans', sans-serif" font-size="7" font-weight="bold" fill="#333">E</text>
<!-- label -->
<text x="21" y="463.4" font-family="'Liberation Sans', sans-serif" font-size="7.6" font-weight="bold" fill="#2a2a2a" textLength="44.8" lengthAdjust="spacingAndGlyphs">Sealed gasketing</text>
<text x="32" y="469.6" font-family="'Liberation Sans', sans-serif" font-size="6" font-weight="bold" fill="#2a2a2a" textLength="22.7" lengthAdjust="spacingAndGlyphs">密封填料</text>
<line x1="33" y1="470.2" x2="55.6" y2="470.2" stroke="#222" stroke-width="0.8"/>
<line x1="55.6" y1="470.2" x2="79.4" y2="512.3" stroke="#333" stroke-width="0.5"/>
<text x="149.2" y="461" font-family="'Liberation Sans', sans-serif" font-size="9" fill="#3a3a3a">MK</text>
<path d="M164.6,457.8 H168.6 M170.2,454.8 H176.6 V460.6 H170.2" stroke="#555" stroke-width="0.8" fill="none"/>
<line x1="183.9" y1="454.6" x2="183.9" y2="460.8" stroke="#333" stroke-width="1"/>
<!-- callouts -->
<g stroke="#333" stroke-width="0.5" fill="none">
<path d="M86,528.5 L79.3,552.6 H72.6"/>
<path d="M95.2,527.5 L100.8,552.6 H106"/>
<path d="M104,529 L112.6,552.6 H118"/>
<path d="M118.5,531 L126.6,552.6 H132.2"/>
<path d="M129.5,531.5 L137.4,552.6 H143"/>
<path d="M139.5,530.5 L148.2,552.6 H153.6"/>
<path d="M144.5,525.5 L158.8,552.6 H164.6"/>
<path d="M194.3,530.8 L204.8,552.6 H210.4"/>
<path d="M203.5,523.5 L217.2,552.6 H222.6"/>
<path d="M211.8,519.5 L226.4,552.6 H236"/>
<path d="M222.8,511.5 L238.6,552.6 H248.4"/>
</g>
<rect x="222.1" y="510.6" width="1.5" height="1.5" fill="#111"/>
<g font-family="'Liberation Sans', sans-serif" font-size="7.4" font-weight="bold" fill="#2a2a2a">
<text x="74.6" y="551.9">1</text>
<text x="101.2" y="551.9">2</text>
<text x="113.4" y="551.9">3</text>
<text x="127.4" y="551.9">4</text>
<text x="138.2" y="551.9">5</text>
<text x="149" y="551.9">6</text>
<text x="159.8" y="551.9">7</text>
<text x="205.6" y="551.9">8</text>
<text x="218.1" y="551.9">9</text>
<text x="227.1" y="551.9" textLength="8" lengthAdjust="spacing">10</text>
<text x="239.6" y="551.9" textLength="8" lengthAdjust="spacing">11</text>
</g>
<!-- hex end view -->
<g>
<polygon clip-path="url(#hexClip)" points="321.4,460.5 356.4,480.7 356.4,521.1 321.4,541.3 286.4,521.1 286.4,480.7" fill="url(#gHex)" stroke="#2a2a2a" stroke-width="0.9"/>
<circle cx="321.4" cy="500.9" r="37.5" fill="none" stroke="#2a2a2a" stroke-width="0.7" clip-path="url(#hexClip2)"/>
<circle cx="321.4" cy="500.9" r="34.2" fill="none" stroke="#5a3010" stroke-width="0.45" opacity="0.8"/>
<circle cx="321.4" cy="500.9" r="22.4" fill="none" stroke="url(#gRing)" stroke-width="7.6"/>
<circle cx="321.4" cy="500.9" r="26.2" fill="none" stroke="#3a3a3a" stroke-width="0.6"/>
<circle cx="321.4" cy="500.9" r="18.6" fill="#fff" stroke="#3a3a3a" stroke-width="0.6"/>
<line x1="282" y1="500.9" x2="362" y2="500.9" stroke="#ee5545" stroke-width="0.8" stroke-dasharray="10 3 2 3"/>
<line x1="321.4" y1="458.6" x2="321.4" y2="543.4" stroke="#ee5545" stroke-width="0.8" stroke-dasharray="10 3 2 3"/>
</g>
</g>

</svg>
</body></html>
